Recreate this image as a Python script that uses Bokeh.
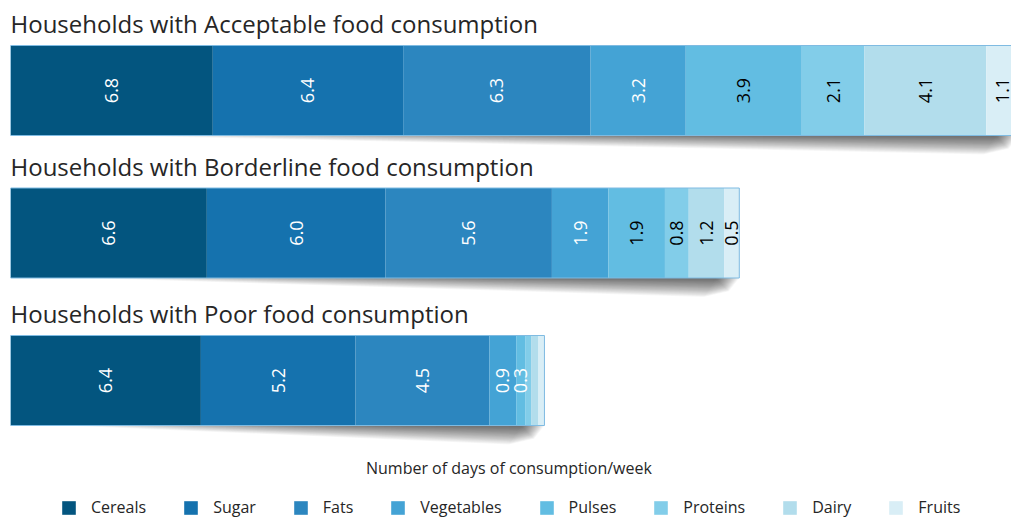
import math
from bokeh.plotting import figure
from bokeh.models import ColumnDataSource, Range1d, Legend, LegendItem
from bokeh.core.properties import value
from bokeh.embed import file_html
from bokeh.resources import INLINE

# Average number of days per week each food group is eaten, by consumption group
groups = ["Acceptable", "Borderline", "Poor"]
titles = [
    "Households with Acceptable food consumption",
    "Households with Borderline food consumption",
    "Households with Poor food consumption",
]
food_groups = ["Cereals", "Sugar", "Fats", "Vegetables", "Pulses", "Proteins", "Dairy", "Fruits"]
cereals = [6.8, 6.6, 6.4]
sugar = [6.4, 6.0, 5.2]
fats = [6.3, 5.6, 4.5]
vegetables = [3.2, 1.9, 0.9]
pulses = [3.9, 1.9, 0.3]
proteins = [2.1, 0.8, 0.2]
dairy = [4.1, 1.2, 0.25]
fruits = [1.1, 0.5, 0.2]
x_title = "Number  of days of consumption/week"

# ---- styling / layout ----
palette = ["#03557f", "#1572ae", "#2c86bf", "#44a3d5", "#62bde2", "#82cde9", "#b2ddec", "#d9eef6"]
label_colors = [
    ["white", "white", "white", "white", "black", "black", "black", "black"],
    ["white", "white", "white", "white", "black", "black", "black", "black"],
    ["white", "white", "white", "white", "white", "black", "black", "black"],
]
bar_tops = [45, 187.5, 335]
bar_h = 90
font = "Open Sans"
W, H = 1011, 519
X_MAX = 33.65

series = [cereals, sugar, fats, vegetables, pulses, proteins, dairy, fruits]
data = {name: vals for name, vals in zip(food_groups, series)}
data["y"] = [t + bar_h / 2 for t in bar_tops]
source = ColumnDataSource(data)

p = figure(
    width=W, height=H,
    x_range=Range1d(0, X_MAX), y_range=Range1d(H, 0),
    output_backend="svg", toolbar_location=None,
    min_border_left=10, min_border_right=0, min_border_top=0, min_border_bottom=0,
)
p.outline_line_color = None
p.grid.visible = False
p.axis.visible = False

# soft drop shadow under each bar: darkest under the right end, fading left, down and right
totals = [sum(s[i] for s in series) for i in range(len(groups))]
layers, depth, fade_w = 24, 19, 1.0
sh_xs, sh_ys = [], []
for i, tot in enumerate(totals):
    b = bar_tops[i] + bar_h
    for k in range(layers):
        f = (k + 1) / layers
        x0 = tot * (0.1 + 0.55 * (1 - f))
        xr = tot - fade_w * (1 - f) * 0.8
        sh_xs.append([x0, xr, xr - 0.35 * f, xr - 1.2 * f])
        sh_ys.append([b, b, b + depth * f * 0.7, b + depth * f])
p.patches(sh_xs, sh_ys, fill_color="black", fill_alpha=0.032, line_color=None)

# stacked bars
renderers = p.hbar_stack(food_groups, y="y", height=bar_h, color=palette,
                         source=source, line_color=None)

# thin outline around each full bar
p.quad(left=[0] * len(totals), right=totals,
       top=bar_tops, bottom=[t + bar_h for t in bar_tops],
       fill_color=None, line_color="#7fbbe2", line_width=1)

# value labels, rotated, at the middle of each segment
lx, ly, lt, lc = [], [], [], []
for i in range(len(groups)):
    start = 0.0
    for j, s in enumerate(series):
        v = s[i]
        if v >= 0.3:
            lx.append(start + v / 2)
            ly.append(bar_tops[i] + bar_h / 2)
            lt.append(f"{v:.1f}")
            lc.append(label_colors[i][j])
        start += v
p.text(x=lx, y=ly, text=lt, text_color=lc, angle=math.pi / 2,
       text_align="center", text_baseline="middle",
       text_font=value(font), text_font_size="18px")

# group titles
p.text(x=[0] * len(titles), y=[t - 22 for t in bar_tops], text=titles,
       text_align="left", text_baseline="middle", text_color="#262626",
       text_font=value(font), text_font_size="24px")

# quantity caption under the bars
p.text(x=[X_MAX / 2], y=[467], text=[x_title], text_align="center",
       text_baseline="middle", text_color="#262626",
       text_font=value(font), text_font_size="16px")

legend = Legend(
    items=[LegendItem(label=n, renderers=[r]) for n, r in zip(food_groups, renderers)],
    orientation="horizontal", location=(50, 1),
    glyph_width=17, glyph_height=17, label_standoff=14, spacing=36,
    label_text_font=font, label_text_font_size="16px", label_text_color="#262626",
    border_line_color=None, background_fill_alpha=0, margin=0, padding=0,
)
p.add_layout(legend)

open("out.html", "w").write(file_html(p, INLINE))
